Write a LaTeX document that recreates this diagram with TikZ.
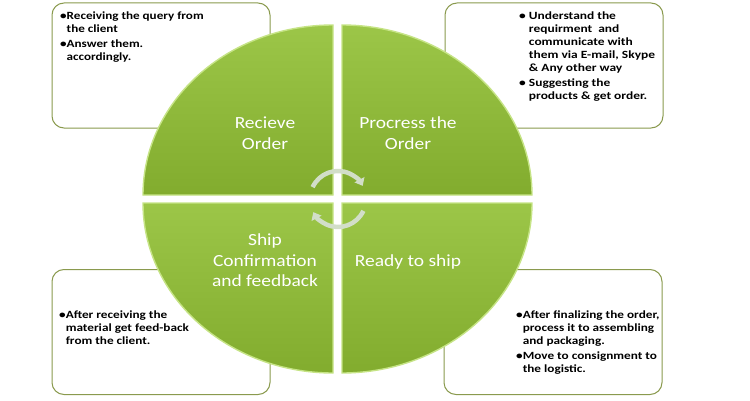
\documentclass[tikz,border=0pt]{standalone}
\usepackage{fontspec}
\setmainfont{Carlito}
\usetikzlibrary{arrows.meta}

\definecolor{boxolive}{RGB}{138,154,78}
\definecolor{quadtop}{RGB}{156,198,72}
\definecolor{quadbottom}{RGB}{130,172,46}
\definecolor{quadrim}{RGB}{198,228,134}
\definecolor{arrowgrey}{RGB}{210,222,200}

\newcommand{\widelines}[2]{\scalebox{#1}[1.05]{\begin{tabular}{@{}l@{}}#2\end{tabular}}}
\newcommand{\widelabel}[1]{\scalebox{1.18}[1.03]{\begin{tabular}{@{}c@{}}#1\end{tabular}}}

\begin{document}
\begin{tikzpicture}[x=1pt,y=1pt,
            note-box/.style={draw=boxolive,line width=1pt,rounded corners=12pt,fill=white,minimum width=218pt,minimum height=125pt},
            note-text/.style={anchor=north west,inner sep=0pt,font=\fontsize{10.5}{12.4}\selectfont\bfseries},
            quad/.style={top color=quadtop,bottom color=quadbottom,draw=quadrim,line width=1.4pt},
            quad-label/.style={text=white,inner sep=0pt,font=\fontsize{16.5}{19.5}\selectfont},
            turn-arrow/.style={line width=4.5pt,draw=arrowgrey,-{Triangle[width=11pt,length=7pt]}},
        ]
            \path[use as bounding box,fill=white] (0,0) rectangle (750,400);

            \node[note-box] (boxTL) at (161,334.5) {};
            \node[note-box] (boxTR) at (554,334.5) {};
            \node[note-box] (boxBL) at (161,68) {};
            \node[note-box] (boxBR) at (553,68) {};

            \node[note-text] (txtTL) at (60,390) {\widelines{1.25}{\textbullet Receiving the query from\\\hphantom{\textbullet}the client\\[2pt]\textbullet Answer them.\\\hphantom{\textbullet}accordingly.}};
            \node[note-text] (txtTR) at (519,390) {\widelines{1.28}{\textbullet\ Understand the\\\hphantom{\textbullet\ }requirment\ \ and\\\hphantom{\textbullet\ }communicate with\\\hphantom{\textbullet\ }them via E-mail, Skype\\\hphantom{\textbullet\ }\& Any other way\\[2pt]\textbullet\ Suggesting the\\\hphantom{\textbullet\ }products \& get order.}};
            \node[note-text] (txtBL) at (59,91) {\widelines{1.26}{\textbullet After receiving the\\\hphantom{\textbullet}material get feed-back\\\hphantom{\textbullet}from the client.}};
            \node[note-text] (txtBR) at (516,91) {\widelines{1.26}{\textbullet After finalizing the order,\\\hphantom{\textbullet}process it to assembling\\\hphantom{\textbullet}and packaging.\\[2pt]\textbullet Move to consignment to\\\hphantom{\textbullet}the logistic.}};

            \draw[quad] (333,205) -- (143,205) arc (180:90:190 and 170) -- cycle;
            \draw[quad] (342,205) -- (342,375) arc (90:0:190 and 170) -- cycle;
            \draw[quad] (333,197) -- (143,197) arc (180:270:190 and 170) -- cycle;
            \draw[quad] (342,197) -- (532,197) arc (0:-90:190 and 170) -- cycle;

            \node[quad-label] (receive) at (265,265) {\widelabel{Recieve\\Order}};
            \node[quad-label] (process) at (408,265) {\widelabel{Procress the\\Order}};
            \node[quad-label] (confirm) at (265,138) {\widelabel{Ship\\Confirmation\\and feedback}};
            \node[quad-label] (ready) at (408,138) {\widelabel{Ready to ship}};

            \coordinate (hub) at (338,201);
            \draw[turn-arrow] ([shift={(155:28)}]hub) arc (155:28:28);
            \draw[turn-arrow] ([shift={(-25:28)}]hub) arc (-25:-152:28);
        \end{tikzpicture}
\end{document}
